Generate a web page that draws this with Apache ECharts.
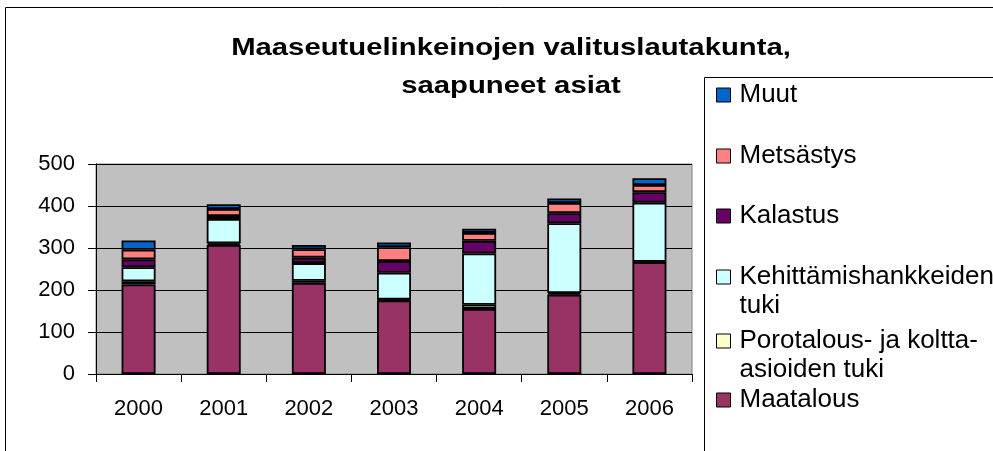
<!DOCTYPE html>
<html>
<head>
<meta charset="utf-8">
<script src="https://cdn.jsdelivr.net/npm/echarts@6/dist/echarts.min.js"></script>
<style>
  html, body { margin: 0; padding: 0; background: #fff; }
  #chart { width: 993px; height: 451px; }
</style>
</head>
<body>
<div id="chart"></div>
<script>
// vuodet
var years = ["2000", "2001", "2002", "2003", "2004", "2005", "2006"];
var yTicks = [0, 100, 200, 300, 400, 500];

// saapuneet asiat asiaryhmittäin (luettu kuvasta)
var maatalous = [213, 307, 217, 175, 155, 189, 266];
var porotalous = [8, 4, 5, 2, 10, 4, 1];
var kehittaminen = [33, 58, 42, 64, 122, 166, 141];
var kalastus = [19, 7, 13, 28, 30, 24, 25];
var metsastys = [23, 17, 20, 33, 19, 24, 17];
var muut = [22, 11, 10, 11, 10, 11, 16];

var seriesNames = ["Maatalous", "Porotalous- ja kolttaasioiden tuki", "Kehittämishankkeiden tuki", "Kalastus", "Metsästys", "Muut"];
var seriesData = [maatalous, porotalous, kehittaminen, kalastus, metsastys, muut];
var colors = ["#993366", "#ffffcc", "#ccffff", "#660066", "#ff8080", "#0066cc"];

// selitteen rivitys kuten alkuperäisessä
var legendLabels = {
  "Muut": "Muut",
  "Metsästys": "Metsästys",
  "Kalastus": "Kalastus",
  "Kehittämishankkeiden tuki": "\nKehittämishankkeiden\ntuki",
  "Porotalous- ja kolttaasioiden tuki": "\nPorotalous- ja koltta-\nasioiden tuki",
  "Maatalous": "Maatalous"
};
// selitteen kohteiden keskikohdat (px)
var legendOrder = ["Muut", "Metsästys", "Kalastus", "Kehittämishankkeiden tuki", "Porotalous- ja kolttaasioiden tuki", "Maatalous"];
var legendCenters = [95, 156, 216, 277, 341, 400];

var font = "Liberation Sans, Arial, sans-serif";
var lineH = 29;

var myChart = echarts.init(document.getElementById("chart"));

var legends = legendOrder.map(function (name, i) {
  var lines = legendLabels[name].split("\n").length;
  return {
    data: [name],
    left: 716,
    top: legendCenters[i] - (lines * lineH) / 2,
    padding: 0,
    orient: "vertical",
    icon: "rect",
    itemWidth: 14,
    itemHeight: 14,
    selectedMode: false,
    itemStyle: { borderColor: "#000", borderWidth: 1 },
    textStyle: {
      fontFamily: font,
      fontSize: 26,
      color: "#000",
      lineHeight: lineH,
      padding: [0, 0, 0, 4]
    },
    formatter: function (n) {
      return legendLabels[n];
    }
  };
});

var option = {
  animation: false,
  backgroundColor: "#fff",
  color: colors,
  grid: {
    left: 96,
    right: 301,
    top: 164,
    bottom: 77,
    show: true,
    backgroundColor: "#c0c0c0",
    borderColor: "#808080",
    borderWidth: 1
  },
  legend: legends,
  xAxis: {
    type: "category",
    data: years,
    axisLine: { lineStyle: { color: "#000", width: 1 } },
    axisTick: { show: true, length: 8, lineStyle: { color: "#000" } },
    axisLabel: { fontFamily: font, fontSize: 22, color: "#000", margin: 24 }
  },
  yAxis: {
    type: "value",
    min: yTicks[0],
    max: yTicks[yTicks.length - 1],
    interval: 100,
    axisLine: { show: true, lineStyle: { color: "#000", width: 1 } },
    axisTick: { show: true, length: 8, lineStyle: { color: "#000" } },
    axisLabel: { fontFamily: font, fontSize: 22, color: "#000", margin: 21 },
    splitLine: { lineStyle: { color: "#000", width: 1 } }
  },
  series: seriesNames.map(function (name, i) {
    return {
      name: name,
      type: "bar",
      stack: "asiat",
      barWidth: 34,
      data: seriesData[i],
      itemStyle: { color: colors[i], borderColor: "#000", borderWidth: 1.8 }
    };
  }),
  graphic: [
    {
      type: "rect",
      shape: { x: 5.5, y: 7.5, width: 1000, height: 500 },
      style: { fill: "none", stroke: "#000", lineWidth: 1 },
      z: -1
    },
    {
      type: "rect",
      shape: { x: 704.5, y: 77.5, width: 400, height: 400 },
      style: { fill: "#fff", stroke: "#000", lineWidth: 1 },
      z: 0
    },
    {
      type: "text",
      x: 511,
      y: 67,
      scaleX: 1.22,
      style: {
        text: "Maaseutuelinkeinojen valituslautakunta,\nsaapuneet asiat",
        font: "bold 24px " + font,
        fill: "#000",
        textAlign: "center",
        textVerticalAlign: "middle",
        lineHeight: 38
      },
      z: 10
    }
  ]
};

myChart.setOption(option);
</script>
</body>
</html>
